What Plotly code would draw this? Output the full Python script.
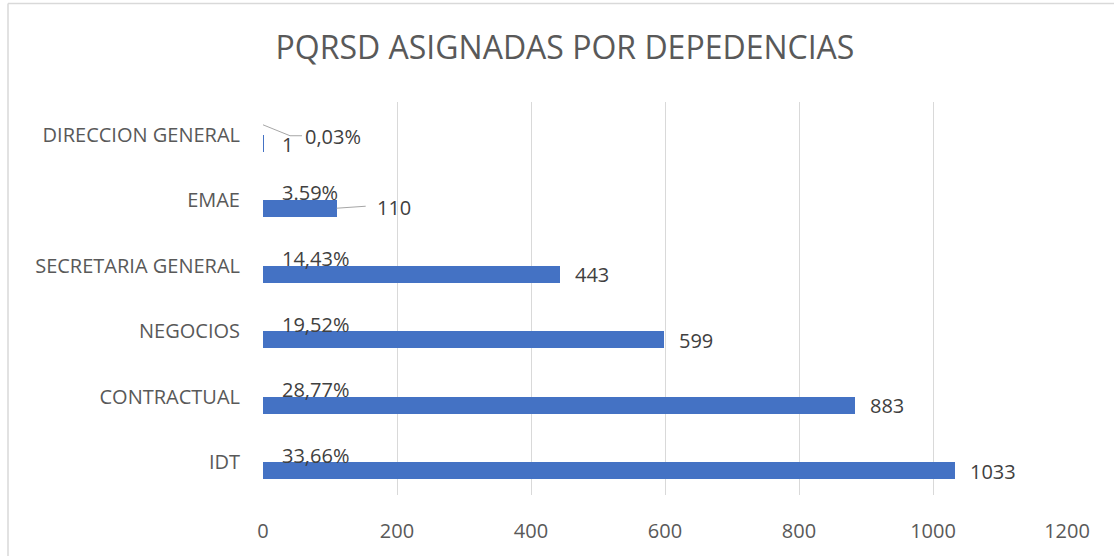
import plotly.graph_objects as go

# ---- data ----
categories = ["IDT", "CONTRACTUAL", "NEGOCIOS", "SECRETARIA GENERAL", "EMAE", "DIRECCION GENERAL"]
values = [1033, 883, 599, 443, 110, 1]
percent_labels = ["33,66%", "28,77%", "19,52%", "14,43%", "3.59%", "0,03%"]
x_ticks = [0, 200, 400, 600, 800, 1000, 1200]

# ---- layout geometry ----
W, H = 1114, 556
ML, MR, MT, MB = 263, 47, 102, 59
PW, PH = W - ML - MR, H - MT - MB
XMAX = 1200
YMIN, YMAX = -0.5, len(categories) - 0.5
px_x = XMAX / PW                 # data units per px (x)
px_y = (YMAX - YMIN) / PH        # data units per px (y)

BAR = "#4472C4"
TXT = "#595959"
LBL = "#404040"
FONT = "Open Sans"

idx = list(range(len(categories)))

fig = go.Figure()
fig.add_trace(go.Bar(
    x=values, y=idx, orientation="h",
    marker=dict(color=BAR, line=dict(width=0)),
    width=0.26, offset=-0.26,
    hoverinfo="skip", showlegend=False,
))

annotations = []
shapes = []
for i, (cat, v, p) in enumerate(zip(categories, values, percent_labels)):
    if cat == "DIRECCION GENERAL":
        p_xs, p_ys = 40, -2
        v_xs, v_ys = 16, -10
    elif cat == "EMAE":
        p_xs, p_ys = 17, 8
        v_xs, v_ys = 38, -7
    else:
        p_xs, p_ys = 17, 7
        v_xs, v_ys = 13, -9
    annotations.append(dict(x=0, y=i, xref="x", yref="y", text=p, showarrow=False,
                            xanchor="left", yanchor="middle", xshift=p_xs, yshift=p_ys,
                            font=dict(family=FONT, size=20, color=LBL)))
    annotations.append(dict(x=v, y=i, xref="x", yref="y", text=str(v), showarrow=False,
                            xanchor="left", yanchor="middle", xshift=v_xs, yshift=v_ys,
                            font=dict(family=FONT, size=20, color=LBL)))

# leader lines
LEADER = dict(color="#a6a6a6", width=1)
i_dg = categories.index("DIRECCION GENERAL")
pts = [(0, 10), (27, -1), (39, -1)]  # px offsets from (0, category centre)
for (ax0, ay0), (ax1, ay1) in zip(pts[:-1], pts[1:]):
    shapes.append(dict(type="line", xref="x", yref="y",
                       x0=ax0 * px_x, y0=i_dg + ay0 * px_y,
                       x1=ax1 * px_x, y1=i_dg + ay1 * px_y, line=LEADER))
i_em = categories.index("EMAE")
v_em = values[i_em]
shapes.append(dict(type="line", xref="x", yref="y",
                   x0=v_em, y0=i_em - 8 * px_y,
                   x1=v_em + 29 * px_x, y1=i_em - 6 * px_y, line=LEADER))

# chart-area border (left and top edges visible)
def paper_x(px):
    return (px - ML) / PW

def paper_y(py):
    return (H - MB - py) / PH

BORDER = dict(color="#d9d9d9", width=1.5)
shapes.append(dict(type="line", xref="paper", yref="paper",
                   x0=paper_x(8), y0=paper_y(3), x1=paper_x(8), y1=paper_y(H + 5), line=BORDER))
shapes.append(dict(type="line", xref="paper", yref="paper",
                   x0=paper_x(8), y0=paper_y(3), x1=paper_x(W + 5), y1=paper_y(3), line=BORDER))

fig.update_layout(
    width=W, height=H,
    margin=dict(l=ML, r=MR, t=MT, b=MB, pad=0),
    paper_bgcolor="white", plot_bgcolor="white",
    title=dict(text="PQRSD ASIGNADAS POR DEPEDENCIAS",
               x=565 / W, xref="container", xanchor="center",
               y=1 - 48 / H, yref="container", yanchor="middle",
               font=dict(family=FONT, size=32, color=TXT)),
    xaxis=dict(range=[0, XMAX], tickvals=x_ticks, ticktext=[str(t) for t in x_ticks],
               showgrid=True, gridcolor="#d9d9d9", gridwidth=1,
               zeroline=False, showline=False, ticks="",
               ticklabelstandoff=22,
               tickfont=dict(family=FONT, size=20, color=TXT), fixedrange=True),
    yaxis=dict(range=[YMIN, YMAX], tickvals=idx, ticktext=categories,
               showgrid=False, zeroline=False, showline=False, ticks="",
               ticklabelstandoff=22,
               tickfont=dict(family=FONT, size=20, color=TXT), fixedrange=True),
    annotations=annotations,
    shapes=shapes,
    bargap=0,
)

fig.write_html("out.html",
               config={"displayModeBar": False, "staticPlot": True},
               post_script="document.body.style.margin='0';document.body.style.overflow='hidden';")
